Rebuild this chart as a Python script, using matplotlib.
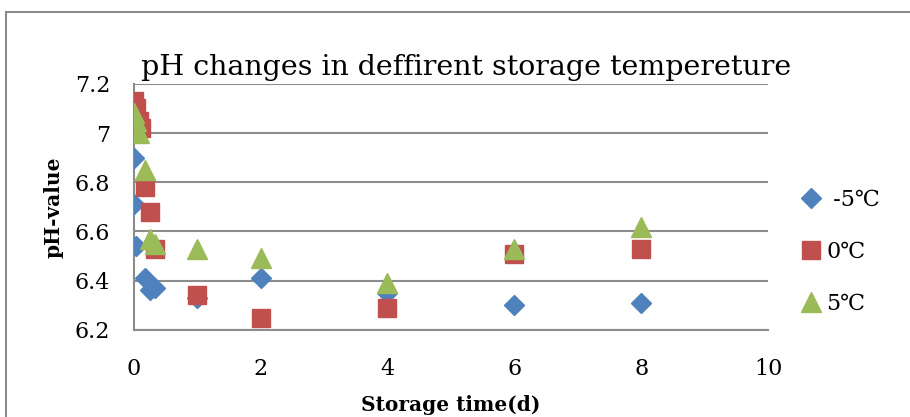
import matplotlib.pyplot as plt
from matplotlib.patches import Rectangle

# storage time (d) and pH for each temperature
t_m5 = [0, 0.0, 0.04, 0.17, 0.25, 0.33, 1, 2, 4, 6, 8]
ph_m5 = [6.90, 6.71, 6.54, 6.41, 6.36, 6.37, 6.33, 6.41, 6.35, 6.30, 6.31]

t_0 = [0, 0.04, 0.08, 0.12, 0.17, 0.25, 0.33, 1, 2, 4, 6, 8]
ph_0 = [7.13, 7.10, 7.05, 7.02, 6.78, 6.68, 6.53, 6.34, 6.25, 6.29, 6.51, 6.53]

t_5 = [0, 0.04, 0.08, 0.17, 0.25, 0.33, 1, 2, 4, 6, 8]
ph_5 = [7.08, 7.05, 7.00, 6.85, 6.57, 6.55, 6.53, 6.49, 6.39, 6.53, 6.62]

labels = [" -5\u2103", "0\u2103", "5\u2103"]

plt.rcParams["font.family"] = ["DejaVu Serif", "DejaVu Sans"]

fig = plt.figure(figsize=(9.1, 4.17), dpi=100)
ax = fig.add_axes([0.147, 0.209, 0.697, 0.59])

# outer chart border
fig.patches.append(Rectangle((6 / 910, -0.1), 1.2, 1 - 12 / 417 + 0.1,
                             transform=fig.transFigure, fill=False,
                             edgecolor="#8c8c8c", linewidth=1.5))

ax.plot(t_m5, ph_m5, "D", color="#4F81BD", markersize=10.5, label=labels[0], zorder=3)
ax.plot(t_0, ph_0, "s", color="#C0504D", markersize=13.5, label=labels[1], zorder=3)
ax.plot(t_5, ph_5, "^", color="#9BBB59", markersize=14.5, label=labels[2], zorder=3)

ax.set_xlim(0, 10)
ax.set_ylim(6.2, 7.2)
ax.set_xticks([0, 2, 4, 6, 8, 10])
ax.set_yticks([6.2, 6.4, 6.6, 6.8, 7.0, 7.2])
ax.set_yticklabels(["6.2", "6.4", "6.6", "6.8", "7", "7.2"])
ax.tick_params(length=0, labelsize=16)
ax.tick_params(axis="x", pad=20)
ax.tick_params(axis="y", pad=17)
ax.grid(axis="y", color="#8c8c8c", linewidth=1.5)
ax.set_axisbelow(True)
for s in ["top", "right"]:
    ax.spines[s].set_visible(False)
for s in ["left", "bottom"]:
    ax.spines[s].set_color("#8c8c8c")
    ax.spines[s].set_linewidth(1.5)

ax.set_title("pH changes in deffirent storage tempereture", fontsize=20.5,
             pad=6, x=0.524)
ax.set_xlabel("Storage time(d)", fontsize=14.5, fontweight="bold", labelpad=11)
ax.set_ylabel("pH-value", fontsize=14.5, fontweight="bold", labelpad=8)

ax.legend(loc="center left", bbox_to_anchor=(1.015, 0.317), frameon=False,
          fontsize=16, labelspacing=1.34, handletextpad=0.1, handlelength=1.2)

fig.savefig("out.png", dpi=100)
